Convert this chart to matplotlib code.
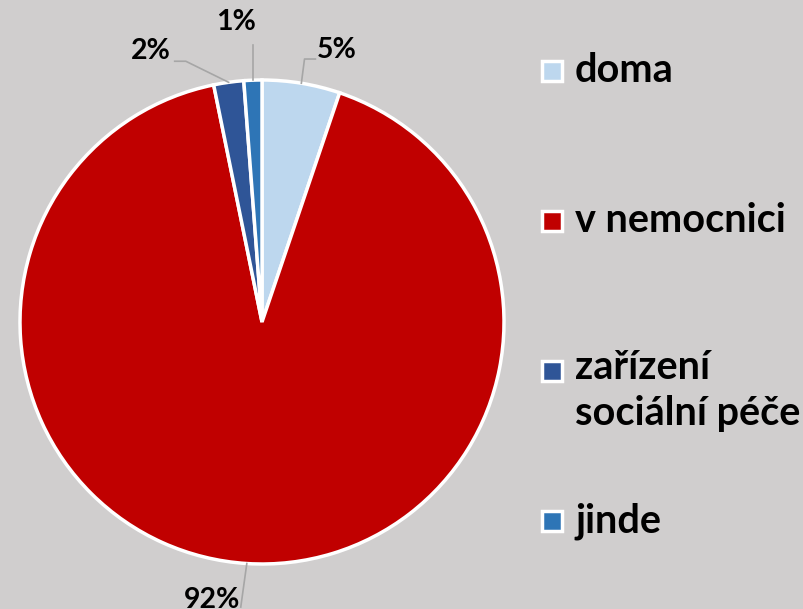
import numpy as np
import matplotlib.pyplot as plt
from matplotlib.patches import Rectangle

# data
categories = ["doma", "v nemocnici", "zařízení\nsociální péče", "jinde"]
values = [5.2, 91.6, 2.0, 1.2]
pct_labels = ["5%", "92%", "2%", "1%"]
colors = ["#BDD7EE", "#C00000", "#2F5597", "#2E75B6"]

bg = "#D0CECE"
plt.rcParams['font.family'] = ['Lato', 'DejaVu Sans']

fig = plt.figure(figsize=(8.04, 6.09), dpi=100, facecolor=bg)
W, H = 804, 609
cx, cy, r = 262, 322, 242
ax = fig.add_axes([(cx - r) / W, (H - cy - r) / H, 2 * r / W, 2 * r / H])
ax.set_facecolor(bg)

wedges, _ = ax.pie(values, colors=colors, startangle=90, counterclock=False,
                   radius=1, wedgeprops=dict(edgecolor="white", linewidth=2.5))
ax.set_xlim(-1, 1)
ax.set_ylim(-1, 1)
ax.set_aspect("equal")
ax.axis("off")

# leader line bends (data units relative to wedge edge point) and text positions
bends = {
    0: [(0.013, 0.10), (0.058, 0.10)],
    1: [(-0.025, -0.18)],
    2: [(-0.177, 0.087), (-0.223, 0.087)],
    3: [(0.0, 0.145)],
}
text_pos = {0: (0.31, 1.125), 1: (-0.207, -1.15), 2: (-0.46, 1.12), 3: (-0.107, 1.24)}

for i, w in enumerate(wedges):
    mid = np.deg2rad((w.theta1 + w.theta2) / 2)
    x0, y0 = np.cos(mid), np.sin(mid)
    xs = [x0] + [x0 + dx for dx, dy in bends[i]]
    ys = [y0] + [y0 + dy for dx, dy in bends[i]]
    ax.plot(xs, ys, color="#A6A6A6", lw=1.2, clip_on=False)
    tx, ty = text_pos[i]
    ax.text(tx, ty, pct_labels[i], ha="center", va="center", fontsize=20.5,
            fontweight="bold", color="black", clip_on=False)

# legend drawn manually
leg_y = [71, 221, 371, 521]
for lab, col, y in zip(categories, colors, leg_y):
    fig.patches.append(Rectangle(((542) / W, (H - y - 10) / H), 20 / W, 20 / H,
                                 transform=fig.transFigure, facecolor=col,
                                 edgecolor="white", linewidth=2.5))
    if "\n" in lab:
        fig.text(575 / W, (H - y + 22) / H, lab, ha="left", va="top",
                 fontsize=28.5, fontweight="bold", color="black", linespacing=1.3)
    else:
        fig.text(575 / W, (H - y) / H, lab, ha="left", va="center",
                 fontsize=28.5, fontweight="bold", color="black")

fig.savefig("out.png", dpi=100, facecolor=bg)
